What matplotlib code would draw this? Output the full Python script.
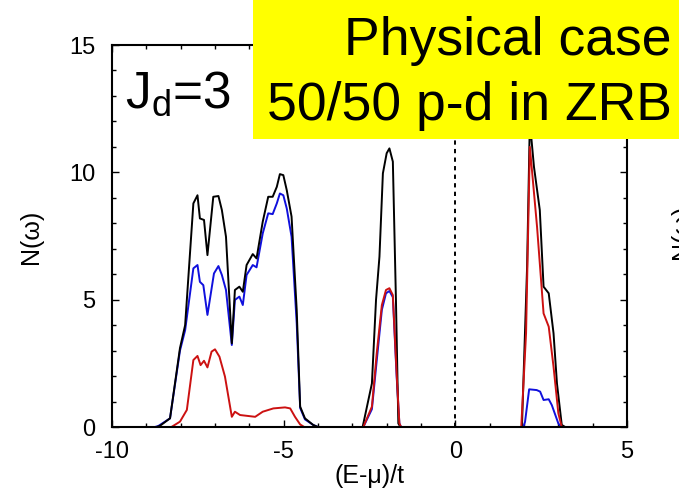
import matplotlib
matplotlib.use("Agg")
import matplotlib.pyplot as plt
from matplotlib.patches import Rectangle

plt.rcParams['font.family'] = ['Liberation Sans', 'DejaVu Sans']
plt.rcParams['mathtext.default'] = 'regular'
plt.rcParams['axes.unicode_minus'] = False

# Densidad de estados: energia (E-mu)/t y N(w) para cada curva
e_total = [-10, -8.7, -8.6, -8.31, -8.02, -7.87, -7.63, -7.51, -7.44, -7.32, -7.22, -7.05, -6.90, -6.80,
           -6.68, -6.51, -6.42, -6.29, -6.19, -6.08, -5.90, -5.79, -5.61, -5.45, -5.32, -5.20, -5.11,
           -5.01, -4.91, -4.77, -4.62, -4.52, -4.38, -4.14, -4.0, -2.70, -2.43, -2.31, -2.21, -2.11,
           -2.00, -1.92, -1.82, -1.73, -1.66, -1.60, 1.94, 2.09, 2.17, 2.29, 2.46, 2.57, 2.72, 2.86,
           2.96, 3.10, 3.2, 5]
n_total = [0, 0, 0.05, 0.34, 3.1, 4.0, 8.78, 9.1, 8.19, 8.13, 6.75, 9.04, 9.07, 8.52,
           7.47, 3.29, 5.38, 5.51, 5.31, 6.36, 6.79, 6.62, 8.06, 9.04, 9.04, 9.43, 9.93,
           9.89, 9.3, 8.26, 4.59, 0.8, 0.34, 0.08, 0, 0, 1.71, 4.99, 6.69, 9.96,
           10.75, 10.94, 10.42, 4.99, 0.14, 0, 0, 6.29, 12.0, 10.22, 8.52, 5.51, 5.25, 3.68,
           1.71, 0.08, 0, 0]

e_blue = [-10, -8.75, -8.65, -8.31, -8.02, -7.87, -7.63, -7.51, -7.44, -7.34, -7.22, -7.03, -6.90,
          -6.80, -6.68, -6.51, -6.42, -6.29, -6.19, -6.08, -5.90, -5.79, -5.61, -5.45, -5.32, -5.20,
          -5.11, -5.01, -4.91, -4.77, -4.62, -4.52, -4.38, -4.14, -4.0, -2.68, -2.43, -2.29, -2.14,
          -2.02, -1.92, -1.82, -1.71, -1.63, -1.58, 1.98, 2.03, 2.15, 2.37, 2.47, 2.57, 2.72, 2.81,
          3.0, 3.08, 5]
n_blue = [0, 0, 0.04, 0.34, 3.0, 3.8, 6.23, 6.36, 5.70, 5.57, 4.40, 6.03, 6.32,
          5.97, 5.38, 3.22, 4.99, 5.12, 4.79, 5.97, 6.36, 6.27, 7.6, 8.39, 8.36, 8.78,
          9.17, 9.1, 8.58, 7.47, 4.07, 0.75, 0.3, 0.08, 0, 0, 0.7, 2.6, 4.6,
          5.25, 5.34, 5.1, 2.0, 0.14, 0, 0, 0.2, 1.48, 1.45, 1.39, 1.06, 1.09, 0.86,
          0.14, 0, 0]

e_red = [-10, -8.27, -8.02, -7.82, -7.63, -7.51, -7.42, -7.32, -7.22, -7.10, -7.0, -6.87, -6.71,
         -6.51, -6.42, -6.27, -6.08, -5.83, -5.61, -5.30, -4.96, -4.81, -4.67, -4.52, -4.4, -2.68,
         -2.43, -2.29, -2.14, -2.02, -1.92, -1.82, -1.71, -1.63, -1.58, 1.92, 2.06, 2.17, 2.24,
         2.38, 2.57, 2.72, 2.86, 3.00, 3.10, 5]
n_red = [0, 0, 0.21, 0.67, 2.63, 2.79, 2.43, 2.6, 2.34, 2.96, 3.05, 2.76, 1.98,
         0.4, 0.6, 0.47, 0.44, 0.4, 0.6, 0.73, 0.77, 0.73, 0.4, 0.1, 0, 0,
         0.8, 2.89, 4.79, 5.38, 5.45, 5.18, 2.1, 0.14, 0, 0, 3.68, 11.0, 9.96,
         7.86, 4.46, 3.94, 2.37, 0.54, 0, 0]

x_ticks = [-10, -5, 0, 5]
y_ticks = [0, 5, 10, 15]

fig = plt.figure(figsize=(6.79, 4.96), dpi=100)
ax = fig.add_axes([112 / 679, 1 - 427 / 496, (627 - 112) / 679, (427 - 45) / 496])

ax.plot(e_blue, n_blue, color='#1010dd', lw=1.4)
ax.plot(e_total, n_total, color='black', lw=1.4)
ax.plot(e_red, n_red, color='#cc1111', lw=1.4)
ax.axvline(0, color='black', lw=1.4, linestyle=(0, (2.2, 2.2)))

ax.set_xlim(-10, 5)
ax.set_ylim(0, 15)
ax.set_xticks(x_ticks)
ax.set_yticks(y_ticks)
ax.set_xticks(range(-10, 6), minor=True)
ax.set_yticks(range(0, 16), minor=True)
ax.tick_params(which='both', direction='in', top=True, right=True, width=1.0)
ax.tick_params(which='major', length=5, labelsize=17)
ax.tick_params(which='minor', length=3)
ax.tick_params(axis='x', which='major', pad=10)
ax.tick_params(axis='y', which='major', pad=12)
for s in ax.spines.values():
    s.set_linewidth(1.5)

ax.set_xlabel('(E-μ)/t', fontsize=18, labelpad=1)
fig.text(31 / 679, 1 - 237 / 496, 'N(ω)', rotation=90, fontsize=18, ha='center', va='center')
# etiqueta del panel vecino, recortada en el borde
fig.text(682 / 679, 1 - 232 / 496, 'N(ω)', rotation=90, fontsize=18, ha='center', va='center')

fig.text(125 / 679, 1 - 108 / 496, r'$\mathregular{J_d}$=3', fontsize=37, ha='left', va='baseline')

# recuadro amarillo
fig.patches.append(Rectangle((253 / 679, 1 - 139 / 496), 1, 1, transform=fig.transFigure,
                             facecolor='#ffff00', edgecolor='none', zorder=5))
fig.text(672 / 679, 1 - 55 / 496, 'Physical case', fontsize=38.5, ha='right', va='baseline', zorder=6)
fig.text(672 / 679, 1 - 120 / 496, '50/50 p-d in ZRB', fontsize=38.5, ha='right', va='baseline', zorder=6)

fig.savefig('out.png', dpi=100)
